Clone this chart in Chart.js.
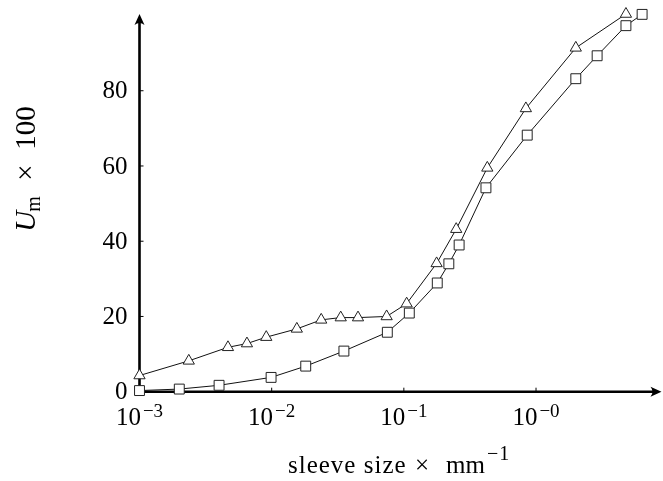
<!DOCTYPE html>
<html>
<head>
<meta charset="utf-8">
<script src="https://cdn.jsdelivr.net/npm/chart.js@4.4.0/dist/chart.umd.min.js"></script>
<style>
  html, body { margin: 0; padding: 0; background: #fff; }
  canvas { display: block; }
</style>
</head>
<body>
<canvas id="chart" width="663" height="481"></canvas>
<script>
// values
const triangleX = [0.001, 0.00236, 0.00467, 0.0065, 0.0091, 0.0155, 0.0237, 0.0333, 0.045, 0.0741, 0.105, 0.177, 0.249, 0.428, 0.838, 2.0, 4.79];
const triangleY = [4.3, 8.2, 11.8, 12.8, 14.5, 16.7, 19.1, 19.7, 19.7, 20.0, 23.4, 34.1, 43.2, 59.5, 75.3, 91.4, 100.4];
const squareX = [0.001, 0.002, 0.004, 0.0099, 0.0181, 0.0352, 0.075, 0.11, 0.179, 0.219, 0.262, 0.418, 0.858, 2.0, 2.9, 4.79, 6.35];
const squareY = [0.3, 0.7, 1.7, 3.8, 6.8, 10.8, 15.8, 20.9, 28.9, 34.0, 39.0, 54.2, 68.2, 83.2, 89.3, 97.3, 100.3];

const xTicks = [0.001, 0.01, 0.1, 1];
const xTickExponents = ["−3", "−2", "−1", "−0"];
const yTicks = [0, 20, 40, 60, 80];

const SERIF = '"Liberation Serif", "DejaVu Serif", serif';

const toPoints = (xs, ys) => xs.map((x, i) => ({ x, y: ys[i] }));

const drawArrow = (ctx, tipX, tipY, angle) => {
  ctx.save();
  ctx.translate(tipX, tipY);
  ctx.rotate(angle);
  ctx.beginPath();
  ctx.moveTo(0, 0);
  ctx.lineTo(-11, -5);
  ctx.quadraticCurveTo(-7, 0, -11, 5);
  ctx.closePath();
  ctx.fill();
  ctx.restore();
};

// "10" with a raised exponent, centred on cx
const drawPower = (ctx, exp, cx, baseline) => {
  ctx.font = `25px ${SERIF}`;
  const wb = ctx.measureText("10").width;
  ctx.font = `19px ${SERIF}`;
  const we = ctx.measureText(exp).width;
  const x0 = cx - (wb + we + 2) / 2;
  ctx.textAlign = "left";
  ctx.textBaseline = "alphabetic";
  ctx.font = `25px ${SERIF}`;
  ctx.fillText("10", x0, baseline);
  ctx.font = `19px ${SERIF}`;
  ctx.fillText(exp, x0 + wb + 2, baseline - 8);
};

const axesPlugin = {
  id: "axes",
  beforeDatasetsDraw(chart) {
    const { ctx, chartArea, scales } = chart;
    const x0 = chartArea.left;
    const y0 = chartArea.bottom;
    ctx.save();
    ctx.strokeStyle = "#000";
    ctx.fillStyle = "#000";
    ctx.lineWidth = 2.6;
    ctx.beginPath();
    ctx.moveTo(x0, y0);
    ctx.lineTo(x0, chartArea.top + 4);
    ctx.moveTo(x0, y0);
    ctx.lineTo(chartArea.right - 4, y0);
    ctx.stroke();
    drawArrow(ctx, x0, chartArea.top, -Math.PI / 2);
    drawArrow(ctx, chartArea.right, y0, 0);

    // small inward tick marks
    ctx.lineWidth = 1;
    ctx.beginPath();
    yTicks.forEach((v) => {
      const py = scales.y.getPixelForValue(v);
      ctx.moveTo(x0, py);
      ctx.lineTo(x0 + 4, py);
    });
    xTicks.forEach((v) => {
      const px = scales.x.getPixelForValue(v);
      ctx.moveTo(px, y0);
      ctx.lineTo(px, y0 - 4);
    });
    ctx.stroke();

    // tick labels
    ctx.font = `25px ${SERIF}`;
    ctx.textAlign = "right";
    ctx.textBaseline = "middle";
    yTicks.forEach((v) => {
      ctx.fillText(String(v), x0 - 12, scales.y.getPixelForValue(v) + 1);
    });
    xTicks.forEach((v, i) => {
      drawPower(ctx, xTickExponents[i], scales.x.getPixelForValue(v), y0 + 33);
    });

    // x title: sleeve size × mm^-1
    ctx.textAlign = "left";
    ctx.textBaseline = "alphabetic";
    ctx.font = `25px ${SERIF}`;
    ctx.letterSpacing = "1px";
    ctx.fillText("sleeve size", 288, 473);
    ctx.letterSpacing = "0px";
    ctx.textAlign = "center";
    ctx.fillText("×", 422, 473);
    ctx.textAlign = "left";
    ctx.fillText("mm", 446, 473);
    const wmm = ctx.measureText("mm").width;
    ctx.font = `20px ${SERIF}`;
    ctx.letterSpacing = "1px";
    ctx.fillText("−1", 446 + wmm + 2, 460);
    ctx.letterSpacing = "0px";

    // y title: U_m × 100 (rotated)
    ctx.translate(35, 169);
    ctx.rotate(-Math.PI / 2);
    ctx.font = `italic 29px ${SERIF}`;
    const wu = ctx.measureText("U").width;
    ctx.font = `20px ${SERIF}`;
    const wsub = ctx.measureText("m").width;
    ctx.font = `29px ${SERIF}`;
    const rest = "  ×  100";
    const wr = ctx.measureText(rest).width;
    const sx = -(wu + wsub + wr) / 2;
    ctx.font = `italic 29px ${SERIF}`;
    ctx.fillText("U", sx, 0);
    ctx.font = `20px ${SERIF}`;
    ctx.fillText("m", sx + wu - 1, 5);
    ctx.font = `29px ${SERIF}`;
    ctx.fillText(rest, sx + wu + wsub, 0);
    ctx.restore();
  }
};

new Chart(document.getElementById("chart"), {
  type: "scatter",
  data: {
    datasets: [
      {
        label: "triangles",
        data: toPoints(triangleX, triangleY),
        showLine: true,
        borderColor: "#111",
        borderWidth: 1,
        pointStyle: "triangle",
        pointRadius: 6.5,
        pointBackgroundColor: "#fff",
        pointBorderColor: "#222",
        pointBorderWidth: 1,
        clip: false
      },
      {
        label: "squares",
        data: toPoints(squareX, squareY),
        showLine: true,
        borderColor: "#111",
        borderWidth: 1,
        pointStyle: "rect",
        pointRadius: 7,
        pointBackgroundColor: "#fff",
        pointBorderColor: "#222",
        pointBorderWidth: 1,
        clip: false
      }
    ]
  },
  options: {
    responsive: false,
    animation: false,
    events: [],
    layout: { autoPadding: false, padding: { left: 139.5, right: 1.5, top: 14, bottom: 89.3 } },
    plugins: { legend: { display: false }, tooltip: { enabled: false } },
    scales: {
      x: { type: "logarithmic", display: false, min: 0.001, max: 8.9 },
      y: { type: "linear", display: false, min: 0, max: 100.4 }
    }
  },
  plugins: [axesPlugin]
});
</script>
</body>
</html>
